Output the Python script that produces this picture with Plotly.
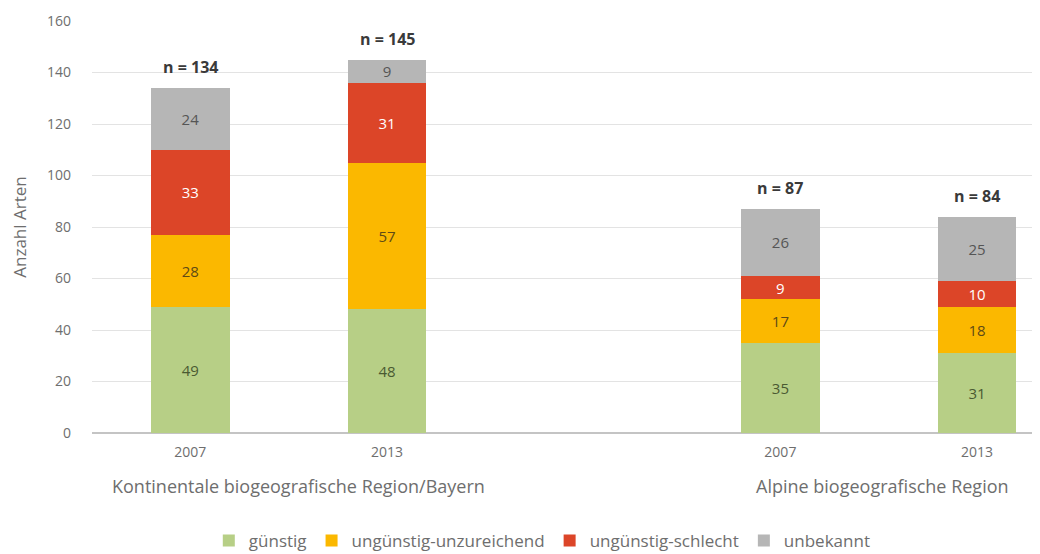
import plotly.graph_objects as go

x_pos = [0, 1, 3, 4]
years = ["2007", "2013", "2007", "2013"]
regions = ["Kontinentale biogeografische Region/Bayern", "Alpine biogeografische Region"]
region_centers = [0.5, 3.5]
region_shifts = [10, 4]

series_names = ["günstig", "ungünstig-unzureichend", "ungünstig-schlecht", "unbekannt"]
guenstig = [49, 48, 35, 31]
unzureichend = [28, 57, 17, 18]
schlecht = [33, 31, 9, 10]
unbekannt = [24, 9, 26, 25]
totals = [134, 145, 87, 84]

colors = ["#B7CF86", "#FBB800", "#DC4528", "#B6B6B6"]
text_colors = ["#4a5a32", "#5e4a16", "#ffffff", "#555555"]
values = [guenstig, unzureichend, schlecht, unbekannt]

FONT = "Open Sans, Noto Sans, sans-serif"
GREY = "#6e6e6e"

fig = go.Figure()
for name, vals, col, tcol in zip(series_names, values, colors, text_colors):
    fig.add_trace(go.Bar(
        x=x_pos, y=vals, name=name, width=0.4,
        marker=dict(color=col, line=dict(width=0)),
        text=[str(v) for v in vals], textposition="inside",
        insidetextanchor="middle", textangle=0,
        textfont=dict(color=tcol, size=15, family=FONT),
        constraintext="none",
    ))

for xp, t in zip(x_pos, totals):
    fig.add_annotation(x=xp, y=t, text=f"<b>n = {t}</b>", showarrow=False,
                       yanchor="bottom", yshift=8,
                       font=dict(size=16, color="#3a3a3a", family=FONT))

for rc, r, sh in zip(region_centers, regions, region_shifts):
    fig.add_annotation(x=rc, y=0, yref="y", text=r, showarrow=False,
                       yanchor="middle", yshift=-53, xshift=sh,
                       font=dict(size=18, color=GREY, family=FONT))

# page body has an 8px margin; figure is sized/offset to compensate
fig.update_layout(
    barmode="stack",
    width=1032, height=546,
    margin=dict(l=84, r=0, t=13, b=121, autoexpand=False),
    plot_bgcolor="white", paper_bgcolor="white",
    font=dict(family=FONT, color=GREY),
    xaxis=dict(range=[-0.5, 4.32], tickvals=x_pos, ticktext=years,
               showgrid=False, zeroline=False, showline=False, automargin=False,
               tickfont=dict(size=14, color=GREY), ticks="", ticklabelstandoff=9),
    yaxis=dict(range=[0, 160], dtick=20, showgrid=True, gridcolor="#e3e3e3",
               gridwidth=1, zeroline=True, zerolinecolor="#c4c4c4", zerolinewidth=2,
               tickfont=dict(size=14, color=GREY), ticks="", automargin=False,
               ticklabelstandoff=20,
               title=dict(text="Anzahl Arten", font=dict(size=17, color=GREY), standoff=18)),
    legend=dict(orientation="h", x=0.475, xanchor="center", y=-0.262, yanchor="middle",
                font=dict(size=17, color=GREY), itemwidth=30,
                traceorder="normal"),
    showlegend=True,
)

fig.write_html("out.html")
